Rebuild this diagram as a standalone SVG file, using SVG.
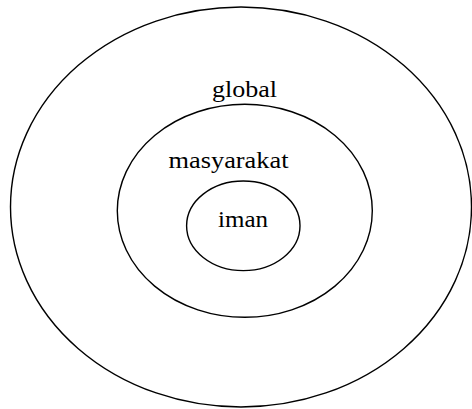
<svg xmlns="http://www.w3.org/2000/svg" width="472" height="409" viewBox="0 0 472 409">
<style>
.ring{fill:none;stroke:#000;stroke-width:1.4}
.lbl{font-family:"Liberation Serif","Times New Roman",serif;font-size:23px;fill:#000}
</style>
<rect width="472" height="409" fill="#fff"/>
<g id="global">
<ellipse class="ring" cx="241" cy="207" rx="230.5" ry="200"/>
<text class="lbl" x="212" y="97" textLength="65" lengthAdjust="spacingAndGlyphs">global</text>
</g>
<g id="masyarakat">
<ellipse class="ring" cx="244.8" cy="210.8" rx="127.5" ry="106.5"/>
<text class="lbl" x="168.5" y="167.5" textLength="120" lengthAdjust="spacingAndGlyphs">masyarakat</text>
</g>
<g id="iman">
<ellipse class="ring" cx="243.3" cy="225.8" rx="56.7" ry="44.8"/>
<text class="lbl" x="218" y="226.7" textLength="50" lengthAdjust="spacingAndGlyphs">iman</text>
</g>
<g id="connectors"></g>
</svg>
